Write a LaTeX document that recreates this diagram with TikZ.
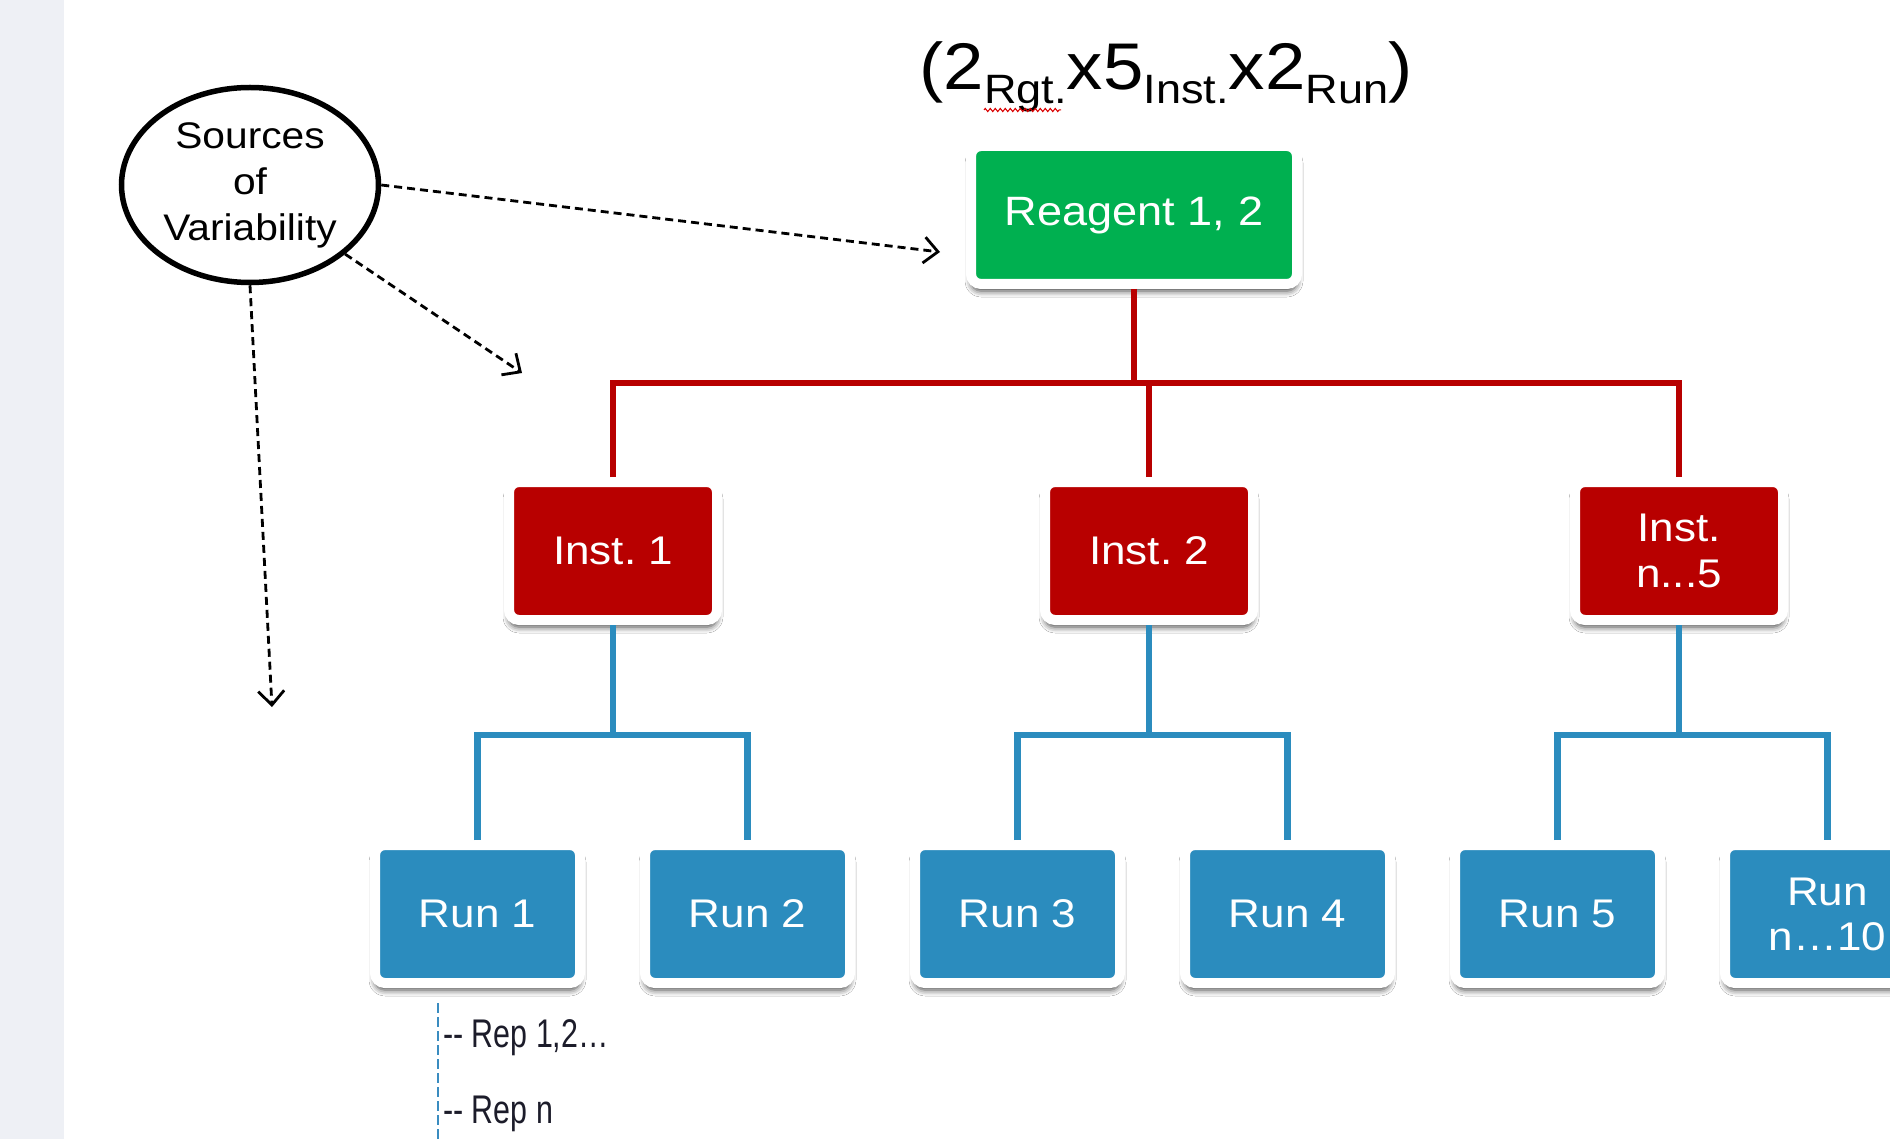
\documentclass[tikz,border=0pt]{standalone}
\usepackage{fontspec}
\setmainfont[FakeStretch=1.1]{Liberation Sans}
\newfontfamily\repfont[FakeStretch=0.76]{Liberation Sans}
\usetikzlibrary{arrows.meta,shapes.geometric,shadows.blur,decorations.pathmorphing}

\definecolor{reagentgreen}{HTML}{00B050}
\definecolor{instred}{HTML}{B80000}
\definecolor{runblue}{HTML}{2B8CBE}
\definecolor{stripgray}{HTML}{EEF0F5}
\definecolor{repblue}{HTML}{3A8CC0}
\definecolor{reptext}{HTML}{1C1C2A}

% lowered, smaller label used in the design formula
\newcommand\lowsub[1]{\raisebox{-14pt}{\fontsize{41}{43}\selectfont #1}}

\begin{document}
\frenchspacing
\begin{tikzpicture}[x=1pt,y=-1pt,
  box/.style={draw=white, line width=10pt, rounded corners=10pt, inner sep=0pt,
    minimum height=138pt, text=white, align=center,
    font=\fontsize{40}{46}\selectfont,
    blur shadow={shadow xshift=0pt, shadow yshift=-7pt, shadow blur radius=6pt, shadow opacity=75}},
  reagentbox/.style={box, fill=reagentgreen, minimum width=326pt, font=\fontsize{41}{46}\selectfont},
  instbox/.style={box, fill=instred, minimum width=208pt},
  runbox/.style={box, fill=runblue, minimum width=205pt},
  redline/.style={draw=instred, line width=6pt},
  blueline/.style={draw=runblue, line width=6.5pt},
  varrow/.style={dash pattern=on 8pt off 5pt, line width=2.8pt,
    -{Straight Barb[length=14pt,width=26pt]}},
  replabel/.style={anchor=base west, inner sep=0pt, text=reptext,
    font=\repfont\fontsize{40}{40}\selectfont}
]
\useasboundingbox (0,0) rectangle (1890,1139);
\clip (0,0) rectangle (1890,1139);
\fill[white] (0,0) rectangle (1890,1139);
\fill[stripgray] (0,0) rectangle (64,1139);

% design formula
\node[anchor=base, inner sep=0pt, font=\fontsize{66}{66}\selectfont] (title) at (1166,90)
  {(2\lowsub{Rgt.}x5\lowsub{Inst.}x2\lowsub{Run})};
\draw[red!85!black, line width=1pt, decorate,
  decoration={zigzag, segment length=5pt, amplitude=1.6pt}] (984,110) -- (1061,110);

% hierarchy boxes
\node[reagentbox] (reagent) at (1134,215) {Reagent 1, 2};

\node[instbox] (inst1) at (613,551) {Inst. 1};
\node[instbox] (inst2) at (1149,551) {Inst. 2};
\node[instbox] (inst3) at (1679,551) {Inst.\\n...5};

\node[runbox] (run1) at (477.5,914) {Run 1};
\node[runbox] (run2) at (747.5,914) {Run 2};
\node[runbox] (run3) at (1017.5,914) {Run 3};
\node[runbox] (run4) at (1287.5,914) {Run 4};
\node[runbox] (run5) at (1557.5,914) {Run 5};
\node[runbox, font=\fontsize{40}{45}\selectfont] (run6) at (1827.5,914) {Run\\n…10};

% reagent -> instruments
\coordinate (rbus) at (0,383);
\draw[redline] (reagent.south) -- (reagent.south |- rbus);
\draw[redline] (inst1.north) -- (inst1.north |- rbus) -- (inst3.north |- rbus) -- (inst3.north);
\draw[redline] (inst2.north) -- (inst2.north |- rbus);

% instruments -> runs
\coordinate (bbus) at (0,735);
\draw[blueline] (inst1.south) -- (inst1.south |- bbus);
\draw[blueline] (run1.north) -- (run1.north |- bbus) -- (run2.north |- bbus) -- (run2.north);
\draw[blueline] (inst2.south) -- (inst2.south |- bbus);
\draw[blueline] (run3.north) -- (run3.north |- bbus) -- (run4.north |- bbus) -- (run4.north);
\draw[blueline] (inst3.south) -- (inst3.south |- bbus);
\draw[blueline] (run5.north) -- (run5.north |- bbus) -- (run6.north |- bbus) -- (run6.north);

% sources of variability
\node[ellipse, draw=black, line width=5.5pt, minimum width=257pt, minimum height=195pt,
  inner sep=0pt, align=center, font=\fontsize{37}{46}\selectfont] (src) at (250,185)
  {Sources\\of\\Variability};
\coordinate (toreagent) at (940,252);
\coordinate (toinst) at (522,373);
\coordinate (torun) at (272,707);
\draw[varrow] (src.east) -- (toreagent);
\draw[varrow] (src.-36) -- (toinst);
\draw[varrow] (src.south) -- (torun);

% replicates
\coordinate (reptop) at (438,1003);
\coordinate (repbot) at (438,1139);
\draw[repblue, line width=1.6pt, dash pattern=on 10pt off 4pt] (reptop) -- (repbot);
\node[replabel] (rep1) at (443,1047) {-{}- Rep 1,2…};
\node[replabel] (repn) at (443,1123) {-{}- Rep n};
\end{tikzpicture}
\end{document}
